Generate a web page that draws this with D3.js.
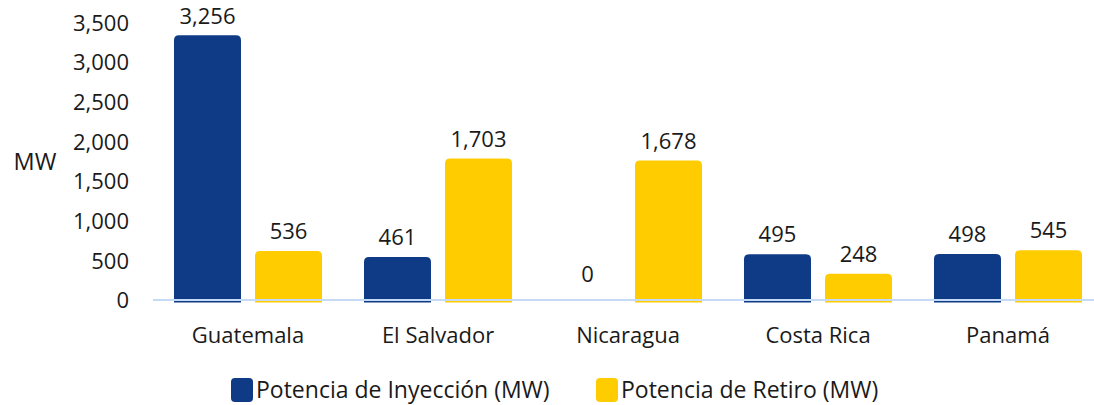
<!DOCTYPE html>
<html>
<head>
<meta charset="utf-8">
<script src="https://cdn.jsdelivr.net/npm/d3@7"></script>
<style>
  body { margin: 0; background: #fff; }
  svg { display: block; }
  svg text { font-family: 'Open Sans', 'Noto Sans', sans-serif; }
</style>
</head>
<body>
<div class="vis"></div>
<script>
const countries = ['Guatemala', 'El Salvador', 'Nicaragua', 'Costa Rica', 'Panamá']
const inyeccion = [3256, 461, 0, 495, 498]
const retiro = [536, 1703, 1678, 248, 545]
const seriesKeys = ['inyeccion', 'retiro']
const seriesNames = ['Potencia de Inyección (MW)', 'Potencia de Retiro (MW)']
const yTicks = [0, 500, 1000, 1500, 2000, 2500, 3000, 3500]

const data = countries.map((c, i) => ({ name: c, inyeccion: inyeccion[i], retiro: retiro[i] }))

const color = d3.scaleOrdinal().domain(seriesKeys).range(['#0f3b86', '#ffcc00'])

const width = 1094
const height = 405
const fontSize = '22px'

const svg = d3
  .select('.vis')
  .append('svg')
  .attr('width', width)
  .attr('height', height)

// scales
const x0 = d3
  .scaleBand()
  .domain(countries)
  .range([153, 1103])
  .padding(0)

const x1 = d3
  .scaleBand()
  .domain(seriesKeys)
  .range([0, x0.bandwidth()])
  .paddingInner(0.173)
  .paddingOuter(0.259)

const y = d3.scaleLinear().domain([0, 3500]).range([300, 22.5])

// y axis labels
const yAxis = d3
  .axisLeft(y)
  .tickValues(yTicks)
  .tickSize(0)
  .tickPadding(0)
  .tickFormat(d3.format(','))

svg
  .append('g')
  .attr('class', 'y axis')
  .attr('transform', 'translate(129,0)')
  .call(yAxis)
  .attr('font-family', null)
  .attr('font-size', null)
  .call(g => g.select('.domain').remove())
  .call(g =>
    g
      .selectAll('.tick text')
      .attr('fill', '#1a1a1a')
      .style('font-size', fontSize)
      .attr('dy', '0.35em')
  )

svg
  .append('text')
  .attr('x', 35)
  .attr('y', 162)
  .attr('dy', '0.35em')
  .attr('text-anchor', 'middle')
  .attr('fill', '#1a1a1a')
  .style('font-size', '23.5px')
  .text('MW')

// bars with rounded tops (drawn a bit taller than the value, as in the original)
const r = 5
const barPath = (x, w, top, bottom) =>
  `M${x},${bottom}V${top + r}Q${x},${top} ${x + r},${top}H${x + w - r}Q${x + w},${top} ${x + w},${top + r}V${bottom}Z`

const group = svg
  .selectAll('.group')
  .data(data)
  .enter()
  .append('g')
  .attr('class', 'group')
  .attr('transform', d => `translate(${x0(d.name)},0)`)

group
  .selectAll('path')
  .data(d => seriesKeys.map(key => ({ key, value: d[key] })))
  .enter()
  .filter(d => d.value > 0)
  .append('path')
  .attr('d', d => barPath(x1(d.key), x1.bandwidth(), y(d.value) - 6.5, y(0) + 2.5))
  .attr('fill', d => color(d.key))

group
  .selectAll('.label')
  .data(d => seriesKeys.map(key => ({ key, value: d[key] })))
  .enter()
  .append('text')
  .attr('class', 'label')
  .attr('x', d => x1(d.key) + x1.bandwidth() / 2)
  .attr('y', d => y(d.value) - 26)
  .attr('dy', '0.35em')
  .attr('text-anchor', 'middle')
  .attr('fill', '#1a1a1a')
  .style('font-size', fontSize)
  .text(d => d3.format(',')(d.value))

// baseline
svg
  .append('line')
  .attr('x1', 153)
  .attr('x2', width)
  .attr('y1', y(0))
  .attr('y2', y(0))
  .attr('stroke', '#c5dbf5')
  .attr('stroke-width', 2)

// category labels
const xAxis = d3.axisBottom(x0).tickSize(0).tickPadding(0)

svg
  .append('g')
  .attr('class', 'x axis')
  .attr('transform', 'translate(0,335)')
  .call(xAxis)
  .attr('font-family', null)
  .attr('font-size', null)
  .call(g => g.select('.domain').remove())
  .call(g =>
    g
      .selectAll('.tick text')
      .attr('fill', '#1a1a1a')
      .attr('dy', '0.35em')
      .style('font-size', fontSize)
  )

// legend
const legendX = [231, 596]
const legend = svg
  .selectAll('.legend')
  .data(seriesKeys)
  .enter()
  .append('g')
  .attr('class', 'legend')
  .attr('transform', (d, i) => `translate(${legendX[i]},378)`)

legend
  .append('rect')
  .attr('width', 22)
  .attr('height', 24)
  .attr('rx', 4)
  .attr('fill', d => color(d))

legend
  .append('text')
  .attr('x', 25)
  .attr('y', 12)
  .attr('dy', '0.35em')
  .attr('fill', '#1a1a1a')
  .style('font-size', '23px')
  .text((d, i) => seriesNames[i])
</script>
</body>
</html>
